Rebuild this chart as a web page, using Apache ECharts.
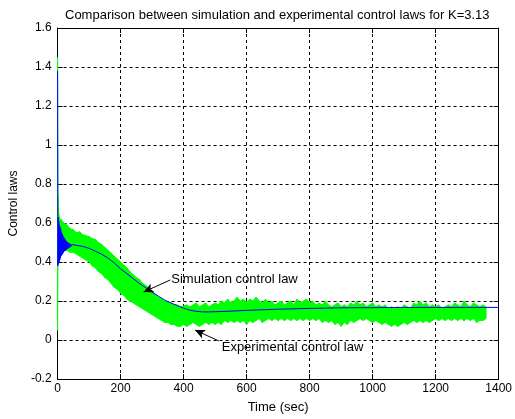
<!DOCTYPE html>
<html><head><meta charset="utf-8">
<script src="https://cdn.jsdelivr.net/npm/echarts@6/dist/echarts.min.js"></script>
<style>html,body{margin:0;padding:0;background:#fff}#c{width:515px;height:419px}</style>
</head><body><div id="c"></div>
<script>
// ---- Data ----
var titleText = 'Comparison between simulation and experimental control laws for K=3.13';
var xTicks = [0, 200, 400, 600, 800, 1000, 1200, 1400];
var yTicks = [-0.2, 0, 0.2, 0.4, 0.6, 0.8, 1, 1.2, 1.4, 1.6];

// Simulation control law (blue)
var simTime = [0,1,2,3,4,5,6,7,8,9,10,11,12,13,14,15,16,17,18,19,20,21,22,23,24,25,26,27,28,29,30,31,32,33,34,35,36,37,38,39,40,42,44,46,48,50,55,60,
  80,100,120,140,160,180,200,220,240,260,280,300,320,340,360,380,400,420,440,460,480,500,550,600,700,800,900,1000,1100,1200,1300,1398];
var simValue = [1.38,0.38,0.63,0.39,0.61,0.40,0.59,0.41,0.58,0.42,0.57,0.43,0.555,0.435,0.545,0.44,0.54,0.445,0.53,0.45,0.525,0.455,0.52,0.458,0.515,0.46,0.51,0.463,0.506,0.466,0.503,0.468,0.50,0.47,0.498,0.472,0.496,0.474,0.494,0.476,0.492,0.478,0.49,0.48,0.489,0.481,0.487,0.485,
  0.48,0.47,0.455,0.44,0.42,0.395,0.365,0.34,0.315,0.29,0.268,0.245,0.225,0.205,0.19,0.176,0.163,0.153,0.147,0.144,0.144,0.145,0.148,0.152,0.158,0.162,0.165,0.166,0.167,0.167,0.167,0.167];

// Experimental control law (green): upper / lower envelope of the noisy band
var expTime = [0,1,3,6,10,20,30,40,50,60,70,80,90,100,110,120,130,140,150,160,170,180,190,200,210,220,230,240,250,260,270,280,290,300,310,320,330,340,350,360,370,380,390,400,
  410,420,430,440,450,460,470,480,490,500,510,520,530,540,550,560,570,580,590,600,610,620,630,640,650,660,670,680,690,700,710,720,730,740,750,760,770,780,790,800,
  810,820,830,840,850,860,870,880,890,900,910,920,930,940,950,960,970,980,990,1000,1010,1020,1030,1040,1050,1060,1070,1080,1090,1100,1110,1120,1130,1140,1150,1160,1170,1180,1190,1200,
  1210,1220,1230,1240,1250,1260,1270,1280,1290,1300,1310,1320,1330,1340,1350,1360];
var expHigh = [1.45,0.74,0.66,0.62,0.62,0.60,0.59,0.57,0.565,0.55,0.555,0.54,0.535,0.53,0.52,0.515,0.50,0.49,0.475,0.46,0.445,0.43,0.415,0.40,0.385,0.37,0.35,0.335,0.32,0.31,0.29,0.28,0.265,0.25,0.235,0.22,0.21,0.20,0.195,0.19,0.18,0.18,0.17,0.175,
  0.18,0.17,0.18,0.19,0.17,0.18,0.19,0.17,0.18,0.19,0.18,0.20,0.19,0.21,0.19,0.20,0.22,0.20,0.21,0.19,0.21,0.20,0.22,0.20,0.19,0.21,0.19,0.20,0.18,0.19,0.20,0.18,0.19,0.20,0.18,0.21,0.19,0.20,0.21,0.19,
  0.20,0.18,0.19,0.18,0.20,0.18,0.17,0.18,0.19,0.17,0.18,0.17,0.19,0.18,0.20,0.18,0.19,0.17,0.18,0.19,0.17,0.18,0.17,0.18,0.16,0.17,0.16,0.17,0.16,0.18,0.17,0.16,0.19,0.18,0.20,0.18,0.19,0.17,0.18,0.17,
  0.18,0.16,0.17,0.18,0.17,0.19,0.18,0.17,0.20,0.18,0.17,0.19,0.18,0.17,0.18,0.17];
var expLow = [0.05,0.42,0.44,0.45,0.45,0.46,0.46,0.45,0.45,0.44,0.43,0.42,0.41,0.40,0.38,0.37,0.35,0.34,0.32,0.31,0.29,0.27,0.26,0.24,0.23,0.21,0.20,0.19,0.18,0.17,0.16,0.15,0.14,0.13,0.12,0.11,0.10,0.09,0.09,0.08,0.08,0.07,0.07,0.08,
  0.07,0.08,0.09,0.08,0.07,0.08,0.09,0.08,0.09,0.08,0.09,0.08,0.10,0.09,0.10,0.09,0.10,0.09,0.10,0.08,0.10,0.09,0.10,0.11,0.09,0.10,0.11,0.10,0.11,0.10,0.11,0.10,0.11,0.10,0.11,0.10,0.11,0.10,0.11,0.10,
  0.11,0.10,0.11,0.09,0.10,0.09,0.10,0.08,0.09,0.07,0.09,0.08,0.10,0.09,0.10,0.11,0.10,0.11,0.10,0.09,0.10,0.09,0.08,0.09,0.08,0.07,0.08,0.07,0.08,0.09,0.08,0.09,0.10,0.09,0.10,0.09,0.10,0.09,0.10,0.11,
  0.10,0.11,0.10,0.11,0.10,0.11,0.10,0.11,0.10,0.11,0.10,0.11,0.09,0.10,0.10,0.11];

// Annotations (data coordinates)
var simLabel = 'Simulation control law';
var simLabelAt = [361, 0.313];
var simArrow = [[358, 0.308], [273, 0.246]];
var expLabel = 'Experimental control law';
var expLabelAt = [521, -0.036];
var expArrow = [[512, -0.005], [436, 0.051]];

// ---- Build ----
var simData = simTime.map(function (t, i) { return [t, simValue[i]]; });
var bandData = expTime.map(function (t, i) { return [t, expLow[i], expHigh[i]]; });

var FONT = 'Liberation Sans, Arial, sans-serif';
function fmtY(v) { return String(+v.toFixed(1)); }
function fmtX(v) { return String(v); }

function renderBand(params, api) {
  var i = params.dataIndex;
  if (i >= bandData.length - 1) return null;
  var a = bandData[i], b = bandData[i + 1];
  var pts = [api.coord([a[0], a[1]]), api.coord([a[0], a[2]]), api.coord([b[0], b[2]]), api.coord([b[0], b[1]])];
  return { type: 'polygon', shape: { points: pts }, style: { fill: '#00ff00', stroke: '#00ff00', lineWidth: 1 } };
}

var axisLineStyle = { show: true, onZero: false, lineStyle: { color: '#000', width: 1 } };
var tickStyle = { show: true, inside: true, length: 5, lineStyle: { color: '#000' } };
var gridLine = { show: true, lineStyle: { color: '#000', type: [3, 3], width: 1 } };

var chart = echarts.init(document.getElementById('c'), null, { renderer: 'canvas' });
chart.setOption({
  backgroundColor: '#fff',
  animation: false,
  title: { text: titleText, left: 60, top: 4, textStyle: { fontFamily: FONT, fontSize: 13, fontWeight: 'normal', color: '#000' } },
  grid: { left: 56, right: 14, top: 28, bottom: 40, containLabel: false },
  xAxis: [{
    type: 'value', min: xTicks[0], max: xTicks[xTicks.length - 1], interval: 200,
    name: 'Time (sec)', nameLocation: 'middle', nameGap: 22,
    nameTextStyle: { fontFamily: FONT, fontSize: 13, color: '#000' },
    axisLine: axisLineStyle, axisTick: tickStyle,
    axisLabel: { fontFamily: FONT, fontSize: 12, color: '#000', margin: 4, formatter: fmtX },
    splitLine: gridLine
  }, {
    type: 'value', position: 'top', min: xTicks[0], max: xTicks[xTicks.length - 1], interval: 200,
    axisLine: axisLineStyle, axisTick: tickStyle, axisLabel: { show: false }, splitLine: { show: false }
  }],
  yAxis: [{
    type: 'value', min: yTicks[0], max: yTicks[yTicks.length - 1], interval: 0.2,
    name: 'Control laws', nameLocation: 'middle', nameGap: 32, nameRotate: 90,
    nameTextStyle: { fontFamily: FONT, fontSize: 12, color: '#000' },
    axisLine: axisLineStyle, axisTick: tickStyle,
    axisLabel: { fontFamily: FONT, fontSize: 12, color: '#000', margin: 6, formatter: fmtY },
    splitLine: gridLine
  }, {
    type: 'value', position: 'right', min: yTicks[0], max: yTicks[yTicks.length - 1], interval: 0.2,
    axisLine: axisLineStyle, axisTick: tickStyle, axisLabel: { show: false }, splitLine: { show: false }
  }],
  series: [{
    name: 'Experimental control law', type: 'custom', renderItem: renderBand, data: bandData,
    encode: { x: 0, y: [1, 2] }, clip: true, silent: true, z: 2
  }, {
    name: 'Simulation control law', type: 'line', data: simData, symbol: 'none',
    lineStyle: { color: '#0000ff', width: 1 }, z: 3,
    markLine: {
      silent: true, symbol: ['none', 'arrow'], symbolSize: [7, 10], animation: false,
      lineStyle: { color: '#000', width: 1, type: 'solid' }, label: { show: false },
      data: [
        [{ coord: simArrow[0] }, { coord: simArrow[1] }],
        [{ coord: expArrow[0] }, { coord: expArrow[1] }]
      ]
    },
    markPoint: {
      silent: true, symbol: 'circle', symbolSize: 0, animation: false,
      label: { show: true, position: 'right', distance: 0, fontFamily: FONT, fontSize: 13, color: '#000' },
      data: [
        { coord: simLabelAt, value: simLabel, label: { formatter: simLabel } },
        { coord: expLabelAt, value: expLabel, label: { formatter: expLabel } }
      ]
    }
  }]
});
</script>
</body></html>
